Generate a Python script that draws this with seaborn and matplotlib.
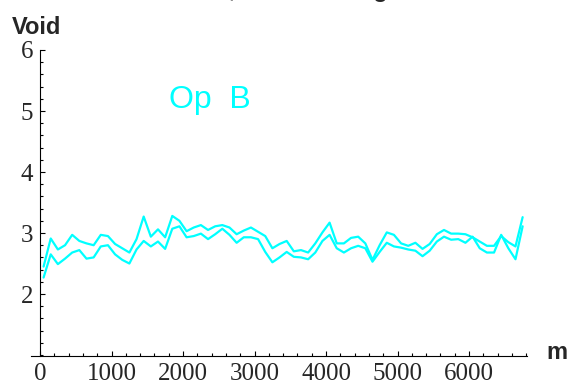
import numpy as np
import pandas as pd
import seaborn as sns
import matplotlib
matplotlib.use("Agg")
import matplotlib.pyplot as plt
from matplotlib.ticker import MultipleLocator, FixedLocator

# sample positions (m) - one value every 100 m starting at 50
x_m = [50 + 100 * i for i in range(68)]

# two void traces
void_upper = [2.45, 2.91, 2.73, 2.80, 2.97, 2.87, 2.83, 2.80, 2.97, 2.95,
              2.82, 2.75, 2.68, 2.90, 3.27, 2.94, 3.06, 2.93, 3.28, 3.20,
              3.03, 3.09, 3.13, 3.05, 3.11, 3.13, 3.09, 2.98, 3.04, 3.09,
              3.02, 2.95, 2.75, 2.82, 2.87, 2.70, 2.72, 2.68, 2.83, 3.01,
              3.17, 2.83, 2.83, 2.92, 2.94, 2.83, 2.56, 2.80, 3.01, 2.97,
              2.83, 2.79, 2.84, 2.74, 2.82, 2.98, 3.05, 2.99, 2.99, 2.98,
              2.93, 2.86, 2.79, 2.79, 2.95, 2.85, 2.78, 3.26]
void_lower = [2.27, 2.65, 2.49, 2.58, 2.68, 2.72, 2.58, 2.60, 2.78, 2.80,
              2.65, 2.56, 2.50, 2.73, 2.87, 2.78, 2.86, 2.74, 3.07, 3.11,
              2.93, 2.95, 2.99, 2.90, 2.98, 3.07, 2.97, 2.84, 2.93, 2.93,
              2.90, 2.69, 2.52, 2.60, 2.69, 2.61, 2.60, 2.57, 2.68, 2.87,
              2.97, 2.75, 2.68, 2.75, 2.79, 2.75, 2.53, 2.69, 2.84, 2.78,
              2.76, 2.73, 2.71, 2.62, 2.71, 2.86, 2.94, 2.89, 2.90, 2.84,
              2.94, 2.75, 2.68, 2.68, 2.97, 2.75, 2.57, 3.11]

x_ticks = [0, 1000, 2000, 3000, 4000, 5000, 6000]
y_ticks = [2, 3, 4, 5, 6]

df = pd.DataFrame({
    "m": x_m * 2,
    "void": void_upper + void_lower,
    "trace": ["upper"] * len(x_m) + ["lower"] * len(x_m),
})

sns.set_style("white")
plt.rcParams["font.family"] = ["Liberation Sans", "DejaVu Sans"]

fig = plt.figure(figsize=(5.7, 3.87), dpi=100)
ax = fig.add_axes([31 / 570, 1 - 356 / 387, 496 / 570, 306 / 387])

sns.lineplot(data=df, x="m", y="void", hue="trace", palette=["#00ffff", "#00ffff"],
             estimator=None, legend=False, linewidth=1.6, ax=ax)

ax.set_xlim(-126, 6811)
ax.set_ylim(0.984, 6.0)

for side in ["top", "right"]:
    ax.spines[side].set_visible(False)
ax.spines["left"].set_position(("data", 0))
for side in ["left", "bottom"]:
    ax.spines[side].set_color("black")
    ax.spines[side].set_linewidth(0.8)

ax.xaxis.set_major_locator(FixedLocator(x_ticks))
ax.xaxis.set_minor_locator(MultipleLocator(200))
ax.yaxis.set_major_locator(FixedLocator(y_ticks))
ax.yaxis.set_minor_locator(MultipleLocator(0.2))
ax.tick_params(which="both", direction="in", color="black", width=0.8,
               bottom=True, left=True, labelsize=18)
ax.tick_params(which="major", length=3.8)
ax.tick_params(which="minor", length=2.5)
ax.tick_params(axis="x", pad=5)
ax.tick_params(axis="y", pad=5)
for lab in ax.get_xticklabels() + ax.get_yticklabels():
    lab.set_fontfamily("Liberation Serif")

ax.set_xlabel("")
ax.set_ylabel("")

ax.text(2380, 5.18, "Op  B", color="#00ffff", fontsize=23,
        ha="center", va="center")

fig.text(12 / 570, 1 - 34 / 387, "Void", fontsize=17, fontweight="bold",
         ha="left", va="baseline")
fig.text(546 / 570, 1 - 359 / 387, "m", fontsize=17, fontweight="bold",
         ha="left", va="baseline")
# title sits above the visible area as in the source, only descenders show
fig.text(114 / 570, 1 + 3 / 387, "Void Ratio, Mean Average", fontsize=17,
         fontweight="bold", ha="left", va="baseline")

fig.savefig("out.png", dpi=100)
